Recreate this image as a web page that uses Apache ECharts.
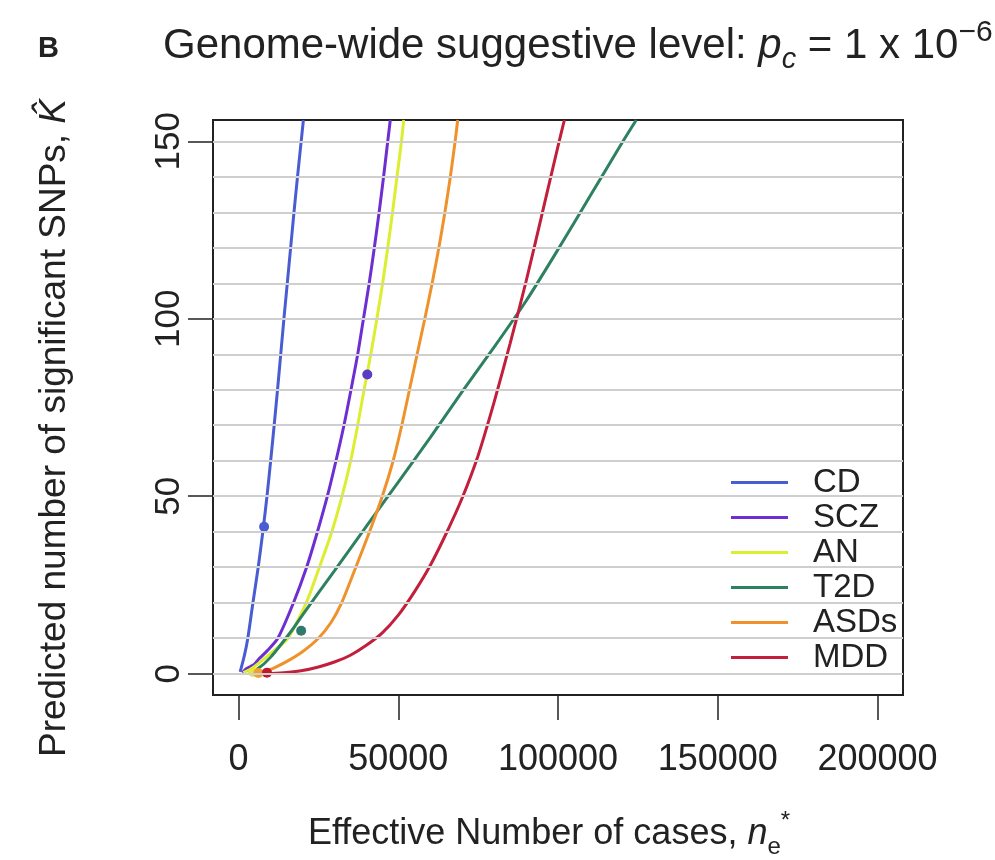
<!DOCTYPE html>
<html>
<head>
<meta charset="utf-8">
<script src="https://cdn.jsdelivr.net/npm/echarts@6/dist/echarts.min.js"></script>
<style>
  html, body { margin: 0; padding: 0; background: #ffffff; }
  #chart { width: 995px; height: 860px; }
</style>
</head>
<body>
<div id="chart"></div>
<script>
// Predicted number of significant SNPs (K) against effective number of cases (n)
// Each curve is a list of [cases, SNPs] pairs.
const cdCurve = [[500,0.5],[1800,5],[2900,10],[4500,20],[6150,30],[7600,40],[8900,50],[10050,60],[11150,70],[12200,80],[13200,90],[14200,100],[15250,110],[16300,120],[17350,130],[18450,140],[19600,150],[20300,156]];
const sczCurve = [[1200,0.3],[2400,1.4],[4900,2.6],[6400,4.2],[9000,6.5],[12300,10],[17200,20],[21300,30],[24700,40],[27800,50],[30500,60],[33000,70],[35200,80],[37300,90],[39100,100],[40900,110],[42500,120],[44000,130],[45400,140],[46700,150],[47500,156]];
const anCurve = [[1500,0.3],[4000,1.4],[8000,4.2],[12000,7.2],[15500,10],[21200,20],[25300,30],[29200,40],[32400,50],[35100,60],[37300,70],[39300,80],[41400,90],[43300,100],[45100,110],[46700,120],[48200,130],[49600,140],[51000,150],[51700,156]];
const t2dCurve = [[3000,0.3],[6000,1.4],[10000,4.6],[16600,12.1],[20000,16.5],[30000,29],[40000,41.5],[50000,54],[60000,66.5],[70000,79.5],[80000,92],[90000,105],[100000,119.5],[110000,134.5],[120000,149.5],[124500,156]];
const asdCurve = [[5000,0.2],[8000,0.6],[11000,1.6],[15000,3.4],[20000,6.2],[25000,10],[29000,14.5],[32300,20],[36700,30],[41000,40],[45000,50],[48400,60],[51100,70],[53500,80],[55900,90],[58300,100],[60600,110],[62700,120],[64600,130],[66300,140],[67800,150],[68600,156]];
const mddCurve = [[8000,0],[10000,0.05],[15000,0.35],[20000,0.9],[25000,1.9],[30000,3.3],[35000,5.2],[40000,8],[45000,11.5],[50000,16.5],[55000,23],[60000,30.5],[65000,39.5],[70000,49.5],[75000,61.5],[80000,76.5],[85000,93],[90000,110.5],[95000,129.5],[100000,148.6],[102000,156]];

// Observed study points
const cdPoint = [[8000, 41.4]];
const sczPoint = [[40300, 84.3]];
const anPoint = [[4500, 0.5]];
const t2dPoint = [[19600, 12.1]];
const asdPoint = [[6200, 0.2]];
const mddPoint = [[8900, 0.3]];

const traitNames = ['CD', 'SCZ', 'AN', 'T2D', 'ASDs', 'MDD'];
const traitColors = ['#4a5cd2', '#6e2fd2', '#dcee30', '#2d8060', '#f0922c', '#c21f3c'];

const xTicks = [0, 50000, 100000, 150000, 200000];
const yTicks = [0, 50, 100, 150];
const gridValues = [0, 10, 20, 30, 40, 50, 60, 70, 80, 90, 100, 110, 120, 130, 140, 150];

const curves = [cdCurve, sczCurve, anCurve, t2dCurve, asdCurve, mddCurve];
const points = [cdPoint, sczPoint, anPoint, t2dPoint, asdPoint, mddPoint];
const pointColors = ['#4a5cd2', '#5a3cc6', '#e4e83a', '#2f7a6c', '#f0a030', '#c0182c'];

const FONT = 'Liberation Sans, Arial, sans-serif';
const INK = '#222222';

const series = [];
// horizontal reference lines behind the curves
series.push({
  type: 'line', name: 'grid', data: [], z: 1, silent: true,
  markLine: {
    silent: true, symbol: ['none', 'none'], label: { show: false },
    lineStyle: { color: '#cfcfcf', width: 2, type: 'solid' },
    emphasis: { disabled: true },
    data: gridValues.map(v => ({ yAxis: v }))
  }
});
curves.forEach((c, i) => {
  series.push({
    type: 'line', name: traitNames[i], data: c, z: 3,
    showSymbol: false, symbol: 'none',
    smooth: 0.25,
    lineStyle: { color: traitColors[i], width: 3 },
    itemStyle: { color: traitColors[i] },
    clip: true
  });
});
points.forEach((p, i) => {
  series.push({
    type: 'scatter', name: traitNames[i] + ' study', data: p, z: 4,
    symbolSize: 10, itemStyle: { color: pointColors[i], opacity: 1 }
  });
});

const chart = echarts.init(document.getElementById('chart'), null, { renderer: 'canvas' });
chart.setOption({
  animation: false,
  backgroundColor: '#ffffff',
  grid: {
    left: 213, top: 120, width: 690, height: 575,
    show: true, borderColor: INK, borderWidth: 2, backgroundColor: 'transparent'
  },
  xAxis: {
    type: 'value', min: -8000, max: 208000,
    axisLine: { show: true, onZero: false, lineStyle: { color: INK, width: 2 } },
    axisTick: { show: true, customValues: xTicks, length: 25, lineStyle: { color: INK, width: 1.5 } },
    axisLabel: { customValues: xTicks, fontSize: 36, margin: 47, color: INK, fontFamily: FONT,
                 formatter: v => String(v) },
    splitLine: { show: false }
  },
  yAxis: {
    type: 'value', min: -6, max: 156,
    axisLine: { show: true, onZero: false, lineStyle: { color: INK, width: 2 } },
    axisTick: { show: true, customValues: yTicks, length: 25, lineStyle: { color: INK, width: 1.5 } },
    axisLabel: { customValues: yTicks, fontSize: 35, margin: 26, rotate: 90, color: INK, fontFamily: FONT,
                 formatter: v => String(v) },
    splitLine: { show: false }
  },
  legend: {
    orient: 'vertical', left: 726, top: 461, z: 10,
    data: traitNames, icon: 'rect', itemWidth: 57, itemHeight: 3, itemGap: 2,
    selectedMode: false,
    textStyle: { fontSize: 33, lineHeight: 29.5, color: INK, fontFamily: FONT, padding: [0, 0, 0, 20] }
  },
  graphic: [
    { type: 'text', x: 38, y: 34, style: { text: 'B', fontSize: 29, fontWeight: 'bold', fill: INK, fontFamily: FONT } },
    {
      type: 'text', x: 163, y: 18,
      style: {
        text: '{t|Genome-wide suggestive level: }{i|p}{s|c}{t| = 1 x 10}{u|\u22126}',
        fill: INK, fontFamily: FONT,
        rich: {
          t: { fontSize: 42, lineHeight: 56, verticalAlign: 'middle', fontFamily: FONT, fill: INK },
          i: { fontSize: 42, lineHeight: 56, verticalAlign: 'middle', fontStyle: 'italic', fontFamily: FONT, fill: INK },
          s: { fontSize: 29, lineHeight: 28, verticalAlign: 'bottom', fontStyle: 'italic', fontFamily: FONT, fill: INK },
          u: { fontSize: 30, lineHeight: 28, verticalAlign: 'top', fontFamily: FONT, fill: INK }
        }
      }
    },
    {
      type: 'text', x: 549, y: 834,
      style: {
        text: '{t|Effective Number of cases, }{i|n}{s|e}{u|*}',
        align: 'center', verticalAlign: 'middle', fill: INK, fontFamily: FONT,
        rich: {
          t: { fontSize: 36, lineHeight: 50, verticalAlign: 'middle', fontFamily: FONT, fill: INK },
          i: { fontSize: 36, lineHeight: 50, verticalAlign: 'middle', fontStyle: 'italic', fontFamily: FONT, fill: INK },
          s: { fontSize: 24, lineHeight: 24, verticalAlign: 'bottom', fontFamily: FONT, fill: INK },
          u: { fontSize: 24, lineHeight: 24, verticalAlign: 'top', fontFamily: FONT, fill: INK }
        }
      }
    },
    {
      type: 'text', x: 55, y: 428, rotation: Math.PI / 2,
      style: {
        text: '{t|Predicted number of significant SNPs, }{k|K\u0302}',
        align: 'center', verticalAlign: 'middle', fill: INK, fontFamily: FONT,
        rich: {
          t: { fontSize: 37, lineHeight: 44, fontFamily: FONT, fill: INK },
          k: { fontSize: 37, lineHeight: 44, fontStyle: 'italic', fontFamily: FONT, fill: INK }
        }
      }
    }
  ],
  series: series
});
</script>
</body>
</html>
